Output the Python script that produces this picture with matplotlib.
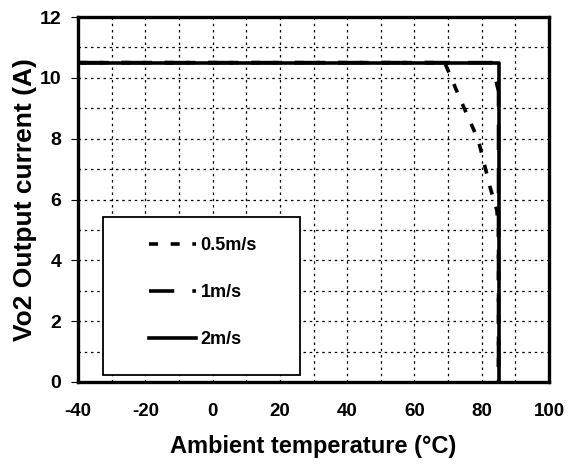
import numpy as np
import matplotlib
matplotlib.use('Agg')
import matplotlib.pyplot as plt
from matplotlib.patches import Rectangle

plt.rcParams['font.family'] = ['Liberation Sans', 'DejaVu Sans']
plt.rcParams['font.weight'] = 'bold'
plt.rcParams['axes.unicode_minus'] = False

# derating curves
temp_05 = [-40, 69, 74, 79, 82.5, 84.5, 85, 85]
curr_05 = [10.5, 10.5, 9.2, 7.95, 6.4, 5.65, 5.0, 0]
temp_1 = [-40, 83, 85, 85]
curr_1 = [10.5, 10.5, 9.55, 0]
temp_2 = [-40, 85, 85]
curr_2 = [10.5, 10.5, 0]
labels = ['0.5m/s', '1m/s', '2m/s']

fig = plt.figure(figsize=(5.68, 4.66), dpi=100)
ax = fig.add_axes([78/568, 1-382/466, 471/568, 365/466])

ax.plot(temp_05, curr_05, color='black', lw=2.6, dashes=(2.5, 3.5), label=labels[0], zorder=3)
ax.plot(temp_1, curr_1, color='black', lw=2.6, dashes=(7, 5), label=labels[1], zorder=3)
ax.plot(temp_2, curr_2, color='black', lw=2.6, label=labels[2], zorder=4)

ax.set_xlim(-40, 100)
ax.set_ylim(0, 12)
ax.set_xticks(np.arange(-40, 101, 20))
ax.set_xticks(np.arange(-40, 101, 10), minor=True)
ax.set_yticks(np.arange(0, 13, 2))
ax.set_yticks(np.arange(0, 13, 1), minor=True)
ax.grid(which='both', color='black', lw=0.9, dashes=(2, 3))
ax.tick_params(which='major', axis='y', length=5, width=0.8, pad=7, labelsize=14)
ax.tick_params(which='major', axis='x', length=0, pad=15, labelsize=13.5)
ax.tick_params(which='minor', length=0)
for s in ax.spines.values():
    s.set_linewidth(2.4)

ax.set_xlabel('Ambient temperature (°C)', fontsize=17, fontweight='bold', labelpad=11)
ax.set_ylabel('Vo2 Output current (A)', fontsize=19, fontweight='bold')
ax.yaxis.set_label_coords(-0.088, 0.5)

# legend box
box = Rectangle((0.053, 0.019), 0.418, 0.433, transform=ax.transAxes,
                facecolor='white', edgecolor='black', lw=1.3, zorder=5)
ax.add_patch(box)
leg = ax.legend(loc='upper left', bbox_to_anchor=(0.12, 0.436), frameon=False,
                fontsize=13, handlelength=2.6, handletextpad=0.25,
                labelspacing=1.65, borderpad=0.3)
leg.set_zorder(6)

fig.savefig('out.png', dpi=100)
